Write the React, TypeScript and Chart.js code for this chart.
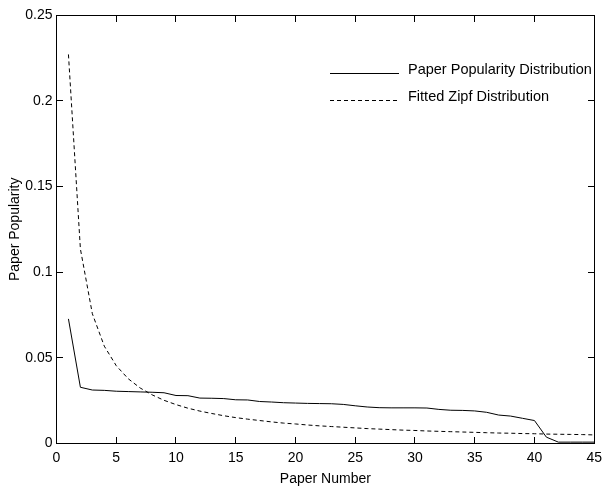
import React, { useEffect, useRef } from "react";
import { Chart, registerables } from "chart.js";

Chart.register(...registerables);

const paperNumbers = [
  1, 2, 3, 4, 5, 6, 7, 8, 9, 10, 11, 12, 13, 14, 15, 16, 17, 18, 19, 20, 21, 22, 23,
  24, 25, 26, 27, 28, 29, 30, 31, 32, 33, 34, 35, 36, 37, 38, 39, 40, 41, 42, 43, 44, 45,
];

const popularity = [
  0.0727, 0.0328, 0.0312, 0.031, 0.0305, 0.0303, 0.0301, 0.0299, 0.0296, 0.028,
  0.0279, 0.0265, 0.0264, 0.0262, 0.0255, 0.0254, 0.0245, 0.0242, 0.0238, 0.0236,
  0.0234, 0.0233, 0.0232, 0.0228, 0.022, 0.0213, 0.0209, 0.0208, 0.0208, 0.0208,
  0.0207, 0.0199, 0.0194, 0.0193, 0.019, 0.0182, 0.0166, 0.016, 0.0147, 0.0134,
  0.0037, 0.0008, 0.0008, 0.0008, 0.0008,
];

const zipfFit = [
  0.227, 0.1135, 0.0757, 0.0568, 0.0454, 0.0378, 0.0324, 0.0284, 0.0252, 0.0227,
  0.0206, 0.0189, 0.0175, 0.0162, 0.0151, 0.0142, 0.0134, 0.0126, 0.0119, 0.0114,
  0.0108, 0.0103, 0.0099, 0.0095, 0.0091, 0.0087, 0.0084, 0.0081, 0.0078, 0.0076,
  0.0073, 0.0071, 0.0069, 0.0067, 0.0065, 0.0063, 0.0061, 0.006, 0.0058, 0.0057,
  0.0055, 0.0054, 0.0053, 0.0052, 0.005,
];

const xTicks = [0, 5, 10, 15, 20, 25, 30, 35, 40, 45];
const yTicks = [0, 0.05, 0.1, 0.15, 0.2, 0.25];
const yTickLabels = ["0", "0.05", "0.1", "0.15", "0.2", "0.25"];
const seriesLabels = ["Paper Popularity Distribution", "Fitted Zipf Distribution"];
const xTitle = "Paper Number";
const yTitle = "Paper Popularity";

const X_MIN = 0;
const X_MAX = 45;
const Y_MIN = 0;
const Y_MAX = 0.25;

const FONT = "'Liberation Sans', Arial, Helvetica, sans-serif";
const DASH = [4, 3];
const TICK_LEN = 6;

const framePlugin = {
  id: "frameTicks",
  afterDraw(chart: any) {
    const ctx: CanvasRenderingContext2D = chart.ctx;
    const { left, right, top, bottom } = chart.chartArea;
    const L = Math.round(left - 0.5);
    const R = Math.round(right - 0.5);
    const T = Math.round(top - 0.5);
    const B = Math.round(bottom - 0.5);
    ctx.save();
    ctx.fillStyle = "#000000";
    ctx.globalAlpha = 1;

    // frame (filled 1px rects)
    ctx.fillRect(L, T, R - L + 1, 1);
    ctx.fillRect(L, B, R - L + 1, 1);
    ctx.fillRect(L, T, 1, B - T + 1);
    ctx.fillRect(R, T, 1, B - T + 1);

    // inward ticks on all four sides
    xTicks.forEach((v) => {
      const raw = left + ((v - X_MIN) / (X_MAX - X_MIN)) * (right - left);
      const px = Math.round(raw - 0.5);
      ctx.fillRect(px, B - TICK_LEN, 1, TICK_LEN);
      ctx.fillRect(px, T + 1, 1, TICK_LEN);
    });
    yTicks.forEach((v) => {
      const raw = bottom - ((v - Y_MIN) / (Y_MAX - Y_MIN)) * (bottom - top);
      const py = Math.round(raw - 0.5);
      ctx.fillRect(L + 1, py, TICK_LEN, 1);
      ctx.fillRect(R - TICK_LEN, py, TICK_LEN, 1);
    });

    // legend
    ctx.strokeStyle = "#000000";
    ctx.lineWidth = 1;
    ctx.font = `14.5px ${FONT}`;
    ctx.textBaseline = "alphabetic";
    ctx.textAlign = "left";
    const rows = [73.5, 100.5];
    seriesLabels.forEach((label, i) => {
      const y = rows[i];
      ctx.beginPath();
      ctx.setLineDash(i === 1 ? DASH : []);
      ctx.moveTo(330, y);
      ctx.lineTo(399, y);
      ctx.stroke();
      ctx.fillText(label, 408, y);
    });
    ctx.restore();
  },
};

export default function App() {
  const ref = useRef<HTMLCanvasElement | null>(null);

  useEffect(() => {
    document.body.style.margin = "0";
    const canvas = ref.current;
    if (!canvas) return;
    const chart = new Chart(canvas, {
      type: "line",
      data: {
        labels: paperNumbers,
        datasets: [
          {
            label: seriesLabels[0],
            data: paperNumbers.map((x, i) => ({ x, y: popularity[i] })),
            borderColor: "#000",
            borderWidth: 1,
            pointRadius: 0,
            tension: 0,
            fill: false,
          },
          {
            label: seriesLabels[1],
            data: paperNumbers.map((x, i) => ({ x, y: zipfFit[i] })),
            borderColor: "#000",
            borderWidth: 1,
            borderDash: DASH,
            pointRadius: 0,
            tension: 0,
            fill: false,
          },
        ],
      },
      options: {
        responsive: false,
        animation: false,
        devicePixelRatio: 1,
        layout: { padding: { top: 15, right: 7.5, left: 0, bottom: 0 } },
        plugins: {
          legend: { display: false },
          tooltip: { enabled: false },
        },
        scales: {
          x: {
            type: "linear",
            min: X_MIN,
            max: X_MAX,
            afterFit: (s: any) => {
              s.height = 46.5;
            },
            afterBuildTicks: (s: any) => {
              s.ticks = xTicks.map((v) => ({ value: v }));
            },
            grid: { display: false, drawTicks: false },
            border: { display: false },
            ticks: {
              padding: 6,
              color: "#000",
              font: { family: FONT, size: 14 },
              maxRotation: 0,
              autoSkip: false,
              callback: (v: any) => String(v),
            },
            title: {
              display: true,
              text: xTitle,
              color: "#000",
              font: { family: FONT, size: 14 },
              padding: { top: 0, bottom: 2 },
            },
          },
          y: {
            type: "linear",
            min: Y_MIN,
            max: Y_MAX,
            afterFit: (s: any) => {
              s.width = 56.5;
            },
            afterBuildTicks: (s: any) => {
              s.ticks = yTicks.map((v) => ({ value: v }));
            },
            grid: { display: false, drawTicks: false },
            border: { display: false },
            ticks: {
              padding: 4,
              color: "#000",
              font: { family: FONT, size: 14 },
              autoSkip: false,
              callback: (v: any) => {
                const i = yTicks.findIndex((t) => Math.abs(t - v) < 1e-9);
                return i >= 0 ? yTickLabels[i] : "";
              },
            },
            title: {
              display: true,
              text: yTitle,
              color: "#000",
              font: { family: FONT, size: 14 },
              padding: { top: 7, bottom: 0 },
            },
          },
        },
      },
      plugins: [framePlugin],
    });
    return () => chart.destroy();
  }, []);

  return (
    <div style={{ width: 608, height: 487, overflow: "hidden", background: "#fff" }}>
      <canvas ref={ref} width={608} height={490} style={{ display: "block" }} />
    </div>
  );
}
